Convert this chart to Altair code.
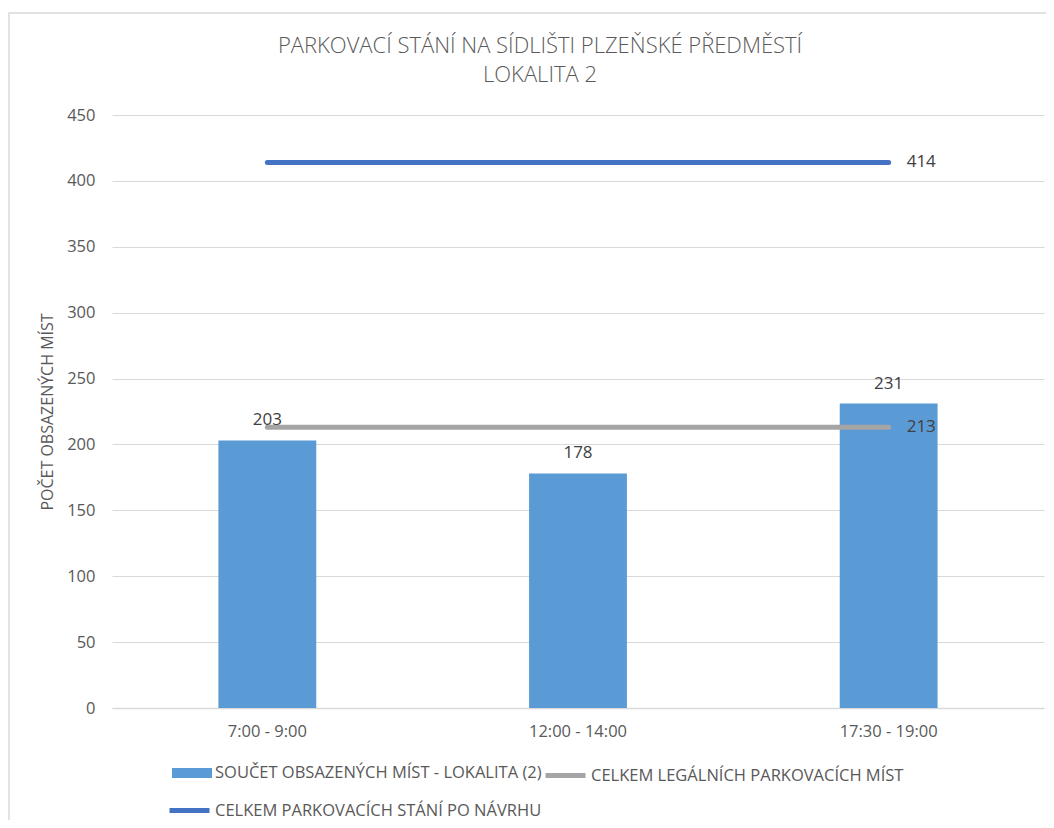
import altair as alt
import pandas as pd

# ---- data ----
categories = ["7:00 - 9:00", "12:00 - 14:00", "17:30 - 19:00"]
occupied = [203, 178, 231]
legal = [213, 213, 213]
proposed = [414, 414, 414]

S1 = "SOUČET OBSAZENÝCH MÍST - LOKALITA (2)"
S2 = "CELKEM LEGÁLNÍCH PARKOVACÍCH MÍST"
S3 = "CELKEM PARKOVACÍCH STÁNÍ PO NÁVRHU"

title_lines = ["PARKOVACÍ STÁNÍ NA SÍDLIŠTI PLZEŇSKÉ PŘEDMĚSTÍ", "LOKALITA 2"]
y_title = "POČET OBSAZENÝCH MÍST"
y_ticks = [0, 50, 100, 150, 200, 250, 300, 350, 400, 450]

df = pd.DataFrame({
    "cat": categories,
    "occupied": occupied,
    "legal": legal,
    "proposed": proposed,
    "s1": [S1] * 3,
    "s2": [S2] * 3,
    "s3": [S3] * 3,
})

FONT = "Open Sans"
TXT = "#595959"
LBL = "#404040"
GRID = "#D9D9D9"
BAR = "#5B9BD5"
GRAY = "#A5A5A5"
BLUE = "#4472C4"
TICK_FS = 16.5
LEG_FS = 16.5
DATA_FS = 17

x_enc = alt.X(
    "cat:N", sort=categories,
    scale=alt.Scale(paddingInner=0.685, paddingOuter=0.3425),
    axis=alt.Axis(title=None, ticks=False, domainColor=GRID, domainWidth=1.5,
                  labelPadding=15, labelFontSize=TICK_FS, labelAngle=0, grid=False,
                  labelColor=TXT, labelFont=FONT),
)
y_scale = alt.Scale(domain=[0, 450], nice=False)

base = alt.Chart(df)

border = alt.Chart(pd.DataFrame({"a": [0]})).mark_rect(
    fillOpacity=0, stroke=GRID, strokeWidth=1.5, clip=False
).encode(x=alt.value(-103), x2=alt.value(960), y=alt.value(-102), y2=alt.value(720))

bars = base.mark_bar(color=BAR).encode(
    x=x_enc,
    y=alt.Y("occupied:Q", scale=y_scale,
            axis=alt.Axis(values=y_ticks, grid=True, gridColor=GRID, domain=False,
                          ticks=False, labelPadding=17, labelFontSize=TICK_FS,
                          labelColor=TXT, labelFont=FONT,
                          title=y_title, titleFont=FONT, titleFontSize=16,
                          titleFontWeight="normal", titleColor=TXT,
                          titleX=-65, titleY=296.5, titleAngle=270,
                          titleAlign="center", titleBaseline="middle")),
    color=alt.Color("s1:N", scale=alt.Scale(domain=[S1], range=[BAR]),
                    legend=alt.Legend(orient="none", legendX=60, legendY=638,
                                      title=None, padding=0,
                                      symbolType="M-1,-0.25L1,-0.25L1,0.25L-1,0.25Z",
                                      symbolSize=1600, symbolStrokeWidth=0,
                                      labelFont=FONT, labelFontSize=LEG_FS,
                                      labelColor=TXT, labelOffset=3, labelLimit=600)),
)

line_legal = base.mark_line(strokeWidth=5, strokeCap="round").encode(
    x=alt.X("cat:N", sort=categories),
    y=alt.Y("legal:Q", scale=y_scale),
    color=alt.Color("s2:N", scale=alt.Scale(domain=[S2], range=[GRAY]),
                    legend=alt.Legend(orient="none", legendX=431, legendY=638,
                                      title=None, padding=0, symbolType="stroke",
                                      symbolSize=1600, symbolStrokeWidth=5,
                                      labelFont=FONT, labelFontSize=LEG_FS,
                                      labelColor=TXT, labelOffset=3, labelLimit=600)),
)

line_prop = base.mark_line(strokeWidth=5, strokeCap="round").encode(
    x=alt.X("cat:N", sort=categories),
    y=alt.Y("proposed:Q", scale=y_scale),
    color=alt.Color("s3:N", scale=alt.Scale(domain=[S3], range=[BLUE]),
                    legend=alt.Legend(orient="none", legendX=55, legendY=673,
                                      title=None, padding=0, symbolType="stroke",
                                      symbolSize=1600, symbolStrokeWidth=5,
                                      labelFont=FONT, labelFontSize=LEG_FS,
                                      labelColor=TXT, labelOffset=3, labelLimit=600)),
)

bar_labels = base.mark_text(font=FONT, fontSize=DATA_FS, color=LBL, baseline="middle",
                            dy=-20).encode(
    x=alt.X("cat:N", sort=categories),
    y=alt.Y("occupied:Q", scale=y_scale),
    text=alt.Text("occupied:Q"),
)

last = alt.datum.cat == categories[-1]
legal_label = base.transform_filter(last).mark_text(
    font=FONT, fontSize=DATA_FS, color=LBL, align="left", baseline="middle", dx=18
).encode(x=alt.X("cat:N", sort=categories), y=alt.Y("legal:Q", scale=y_scale),
         text=alt.Text("legal:Q"))
prop_label = base.transform_filter(last).mark_text(
    font=FONT, fontSize=DATA_FS, color=LBL, align="left", baseline="middle", dx=18
).encode(x=alt.X("cat:N", sort=categories), y=alt.Y("proposed:Q", scale=y_scale),
         text=alt.Text("proposed:Q"))

chart = alt.layer(
    border, bars, line_legal, line_prop, bar_labels, legal_label, prop_label
).resolve_scale(color="independent").properties(
    width=932, height=593,
    background="white",
    autosize=alt.AutoSizeParams(type="none"),
    padding={"left": 104, "top": 107, "right": 2, "bottom": 112},
    title=alt.TitleParams(text=title_lines, anchor="middle", dx=-38, offset=-75,
                          font=FONT, fontSize=22, fontWeight=300, color=TXT,
                          lineHeight=29),
).configure_view(stroke="transparent", strokeWidth=0)

chart.save("out.html", embed_options={"renderer": "svg", "actions": False})
